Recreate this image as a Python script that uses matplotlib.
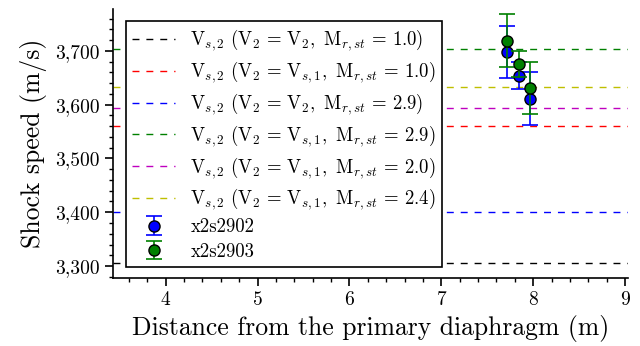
import matplotlib
matplotlib.use("Agg")
import matplotlib.pyplot as plt
from matplotlib.ticker import MultipleLocator, StrMethodFormatter

plt.rcParams['font.family'] = 'serif'
plt.rcParams['font.serif'] = ['cmr10']
plt.rcParams['mathtext.fontset'] = 'cm'
plt.rcParams['axes.formatter.use_mathtext'] = True

# Reference lines (shock speed, m/s)
ref_values = [3306, 3561, 3400, 3703, 3593, 3633]
ref_colors = ['k', 'r', 'b', 'g', 'm', 'y']
ref_labels = [
    r'$\mathrm{V}_{s,2}\ (\mathrm{V}_2\,=\,\mathrm{V}_2,\ \mathrm{M}_{r,st}\,=\,1.0)$',
    r'$\mathrm{V}_{s,2}\ (\mathrm{V}_2\,=\,\mathrm{V}_{s,1},\ \mathrm{M}_{r,st}\,=\,1.0)$',
    r'$\mathrm{V}_{s,2}\ (\mathrm{V}_2\,=\,\mathrm{V}_2,\ \mathrm{M}_{r,st}\,=\,2.9)$',
    r'$\mathrm{V}_{s,2}\ (\mathrm{V}_2\,=\,\mathrm{V}_{s,1},\ \mathrm{M}_{r,st}\,=\,2.9)$',
    r'$\mathrm{V}_{s,2}\ (\mathrm{V}_2\,=\,\mathrm{V}_{s,1},\ \mathrm{M}_{r,st}\,=\,2.0)$',
    r'$\mathrm{V}_{s,2}\ (\mathrm{V}_2\,=\,\mathrm{V}_{s,1},\ \mathrm{M}_{r,st}\,=\,2.4)$',
]

# Measured shock speeds
x_pos = [7.72, 7.85, 7.97]
x2s2902_v = [3698, 3654, 3611]
x2s2902_err = [49, 25, 49]
x2s2903_v = [3719, 3676, 3631]
x2s2903_err = [49, 24, 48]

fig = plt.figure(figsize=(6.4, 3.46), dpi=100)
ax = fig.add_axes([0.177, 0.197, 0.804, 0.777])

for v, c, l in zip(ref_values, ref_colors, ref_labels):
    ax.axhline(v, color=c, linestyle=(0, (5, 5)), linewidth=1.0, label=l)

ax.errorbar(x_pos, x2s2902_v, yerr=x2s2902_err, fmt='o', color='b', ecolor='b',
            markeredgecolor='k', markersize=8, capsize=6, elinewidth=1.2,
            capthick=1.2, label='x2s2902', zorder=3)
ax.errorbar(x_pos, x2s2903_v, yerr=x2s2903_err, fmt='o', color='g', ecolor='g',
            markeredgecolor='k', markersize=8, capsize=6, elinewidth=1.2,
            capthick=1.2, label='x2s2903', zorder=4)

ax.set_xlim(3.43, 9.03)
ax.set_ylim(3278, 3778)
ax.xaxis.set_major_locator(MultipleLocator(1))
ax.xaxis.set_minor_locator(MultipleLocator(0.2))
ax.yaxis.set_major_locator(MultipleLocator(100))
ax.yaxis.set_minor_locator(MultipleLocator(20))
ax.yaxis.set_major_formatter(StrMethodFormatter('{x:,.0f}'))
ax.tick_params(which='major', length=6, width=1.2, labelsize=14)
ax.tick_params(which='minor', length=3, width=1.0)
for s in ['top', 'right']:
    ax.spines[s].set_visible(False)
for s in ['left', 'bottom']:
    ax.spines[s].set_linewidth(1.2)

ax.set_xlabel('Distance from the primary diaphragm (m)', fontsize=18.5, labelpad=4)
ax.set_ylabel('Shock speed (m/s)', fontsize=18.5, labelpad=6)

leg = ax.legend(loc='upper left', bbox_to_anchor=(0.006, 0.99), fontsize=13.5,
                frameon=True, fancybox=False, framealpha=1, edgecolor='k',
                borderpad=0.35, labelspacing=0.33, handlelength=2.3,
                handletextpad=0.8)
leg.get_frame().set_linewidth(1.2)

fig.savefig('out.png', dpi=100)
